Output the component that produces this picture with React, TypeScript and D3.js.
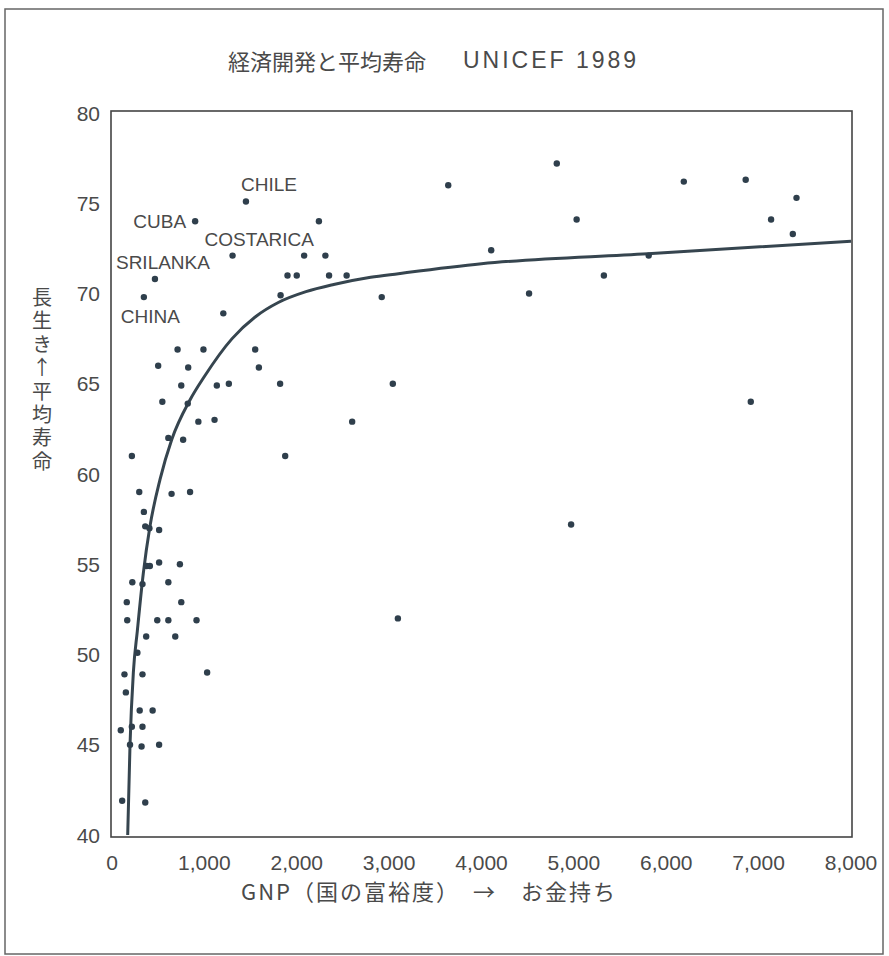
import React from 'react';
import { scaleLinear, line, curveMonotoneX } from 'd3';

// GNP (US$) and life expectancy
const gnpValues = [
  1450, 900, 2240, 1305, 2080, 2310, 1900, 2000, 2350, 2540,
  465, 345, 1825, 2920, 1205, 710, 990, 1550, 500, 825,
  1590, 750, 1135, 1265, 1820, 3040, 545, 820, 935, 1110,
  2600, 610, 770, 215, 1875, 295, 645, 845, 345, 360,
  405, 510, 375, 410, 510, 735, 220, 330, 610, 160,
  750, 165, 490, 610, 915, 3095, 370, 685, 275, 135,
  330, 1030, 150, 300, 440, 95, 215, 330, 195, 320,
  510, 110, 360, 3640, 4815, 6190, 6860, 7410, 5030, 7135,
  7370, 4105, 5810, 5325, 4515, 6915, 4970,
];
const lifeValues = [
  75.1, 74.0, 74.0, 72.1, 72.1, 72.1, 71.0, 71.0, 71.0, 71.0,
  70.8, 69.8, 69.9, 69.8, 68.9, 66.9, 66.9, 66.9, 66.0, 65.9,
  65.9, 64.9, 64.9, 65.0, 65.0, 65.0, 64.0, 63.9, 62.9, 63.0,
  62.9, 62.0, 61.9, 61.0, 61.0, 59.0, 58.9, 59.0, 57.9, 57.1,
  57.0, 56.9, 54.9, 54.9, 55.1, 55.0, 54.0, 53.9, 54.0, 52.9,
  52.9, 51.9, 51.9, 51.9, 51.9, 52.0, 51.0, 51.0, 50.1, 48.9,
  48.9, 49.0, 47.9, 46.9, 46.9, 45.8, 46.0, 46.0, 45.0, 44.9,
  45.0, 41.9, 41.8, 76.0, 77.2, 76.2, 76.3, 75.3, 74.1, 74.1,
  73.3, 72.4, 72.1, 71.0, 70.0, 64.0, 57.2,
];

// fitted curve, read at several points
const curveGnp = [170, 195, 231, 274, 339, 411, 520, 646, 844, 1000, 1300, 1550, 1800, 2100, 2400, 2800, 3100, 4000, 5800, 8000];
const curveLife = [40, 45, 49, 51.3, 54.5, 57.1, 59.7, 61.9, 64.1, 65.4, 67.5, 68.7, 69.5, 70.1, 70.5, 70.9, 71.1, 71.65, 72.2, 72.9];

const xTicks = [0, 1000, 2000, 3000, 4000, 5000, 6000, 7000, 8000];
const yTicks = [40, 45, 50, 55, 60, 65, 70, 75, 80];

const countryNames = ['CHILE', 'CUBA', 'COSTARICA', 'SRILANKA', 'CHINA'];
const countryIndex = [0, 1, 3, 10, 11];

const latin = '"Liberation Sans", Arial, sans-serif';
const cjk = '"Noto Sans CJK JP", sans-serif';
const ink = '#4a4a4a';
const dotColor = '#2f3f4c';

export default function App() {
  const x = scaleLinear().domain([0, 8000]).range([112, 851]);
  const y = scaleLinear().domain([40, 80]).range([835, 113]);

  const curvePath = line<number>()
    .x((d) => x(d))
    .y((_, i) => y(curveLife[i]))
    .curve(curveMonotoneX)(curveGnp);

  // label offsets relative to their dot
  const labelPos = [
    { dx: -5, dy: -17, anchor: 'start' },
    { dx: -9, dy: 0, anchor: 'end' },
    { dx: -28, dy: -16, anchor: 'start' },
    { dx: -39, dy: -17, anchor: 'start' },
    { dx: -23, dy: 19, anchor: 'start' },
  ];

  return (
    <svg width={889} height={956} style={{ position: 'absolute', left: 0, top: 0, background: '#fff' }}>
      <rect x={5} y={9} width={878} height={945} fill="none" stroke="#666" strokeWidth={1.5} />

      <text x={228} y={60} fontFamily={cjk} fontSize={22} fill={ink} dominantBaseline="central">
        経済開発と平均寿命
      </text>
      <text x={463} y={60} fontFamily={latin} fontSize={23} fill={ink} dominantBaseline="central" letterSpacing={3}>
        UNICEF 1989
      </text>

      <rect x={111} y={111} width={741} height={726} fill="none" stroke="#444" strokeWidth={1.6} />

      {yTicks.map((t) => (
        <text key={t} x={100} y={y(t)} textAnchor="end" dominantBaseline="central"
          fontFamily={latin} fontSize={21} fill={ink}>
          {t}
        </text>
      ))}
      {xTicks.map((t) => (
        <text key={t} x={x(t)} y={862} textAnchor="middle" dominantBaseline="central"
          fontFamily={latin} fontSize={21} fill={ink}>
          {t === 0 ? '0' : t.toLocaleString('en-US')}
        </text>
      ))}

      <text x={42} y={381} textAnchor="middle" fontFamily={cjk} fontSize={20} fill={ink} letterSpacing={3.4}
        style={{ writingMode: 'vertical-rl', textOrientation: 'upright' }}>
        長生き↑平均寿命
      </text>

      <text x={429} y={890} textAnchor="middle" dominantBaseline="central" fontFamily={cjk} fontSize={22}
        fill={ink} letterSpacing={2}>
        GNP（国の富裕度）　→　お金持ち
      </text>

      <path d={curvePath ?? ''} fill="none" stroke="#36454f" strokeWidth={3} />

      {gnpValues.map((g, i) => (
        <circle key={i} cx={x(g)} cy={y(lifeValues[i])} r={3.2} fill={dotColor} />
      ))}

      {countryNames.map((name, i) => {
        const k = countryIndex[i];
        const p = labelPos[i];
        return (
          <text key={name} x={x(gnpValues[k]) + p.dx} y={y(lifeValues[k]) + p.dy}
            textAnchor={p.anchor} dominantBaseline="central" fontFamily={latin} fontSize={19} fill={ink}>
            {name}
          </text>
        );
      })}
    </svg>
  );
}
